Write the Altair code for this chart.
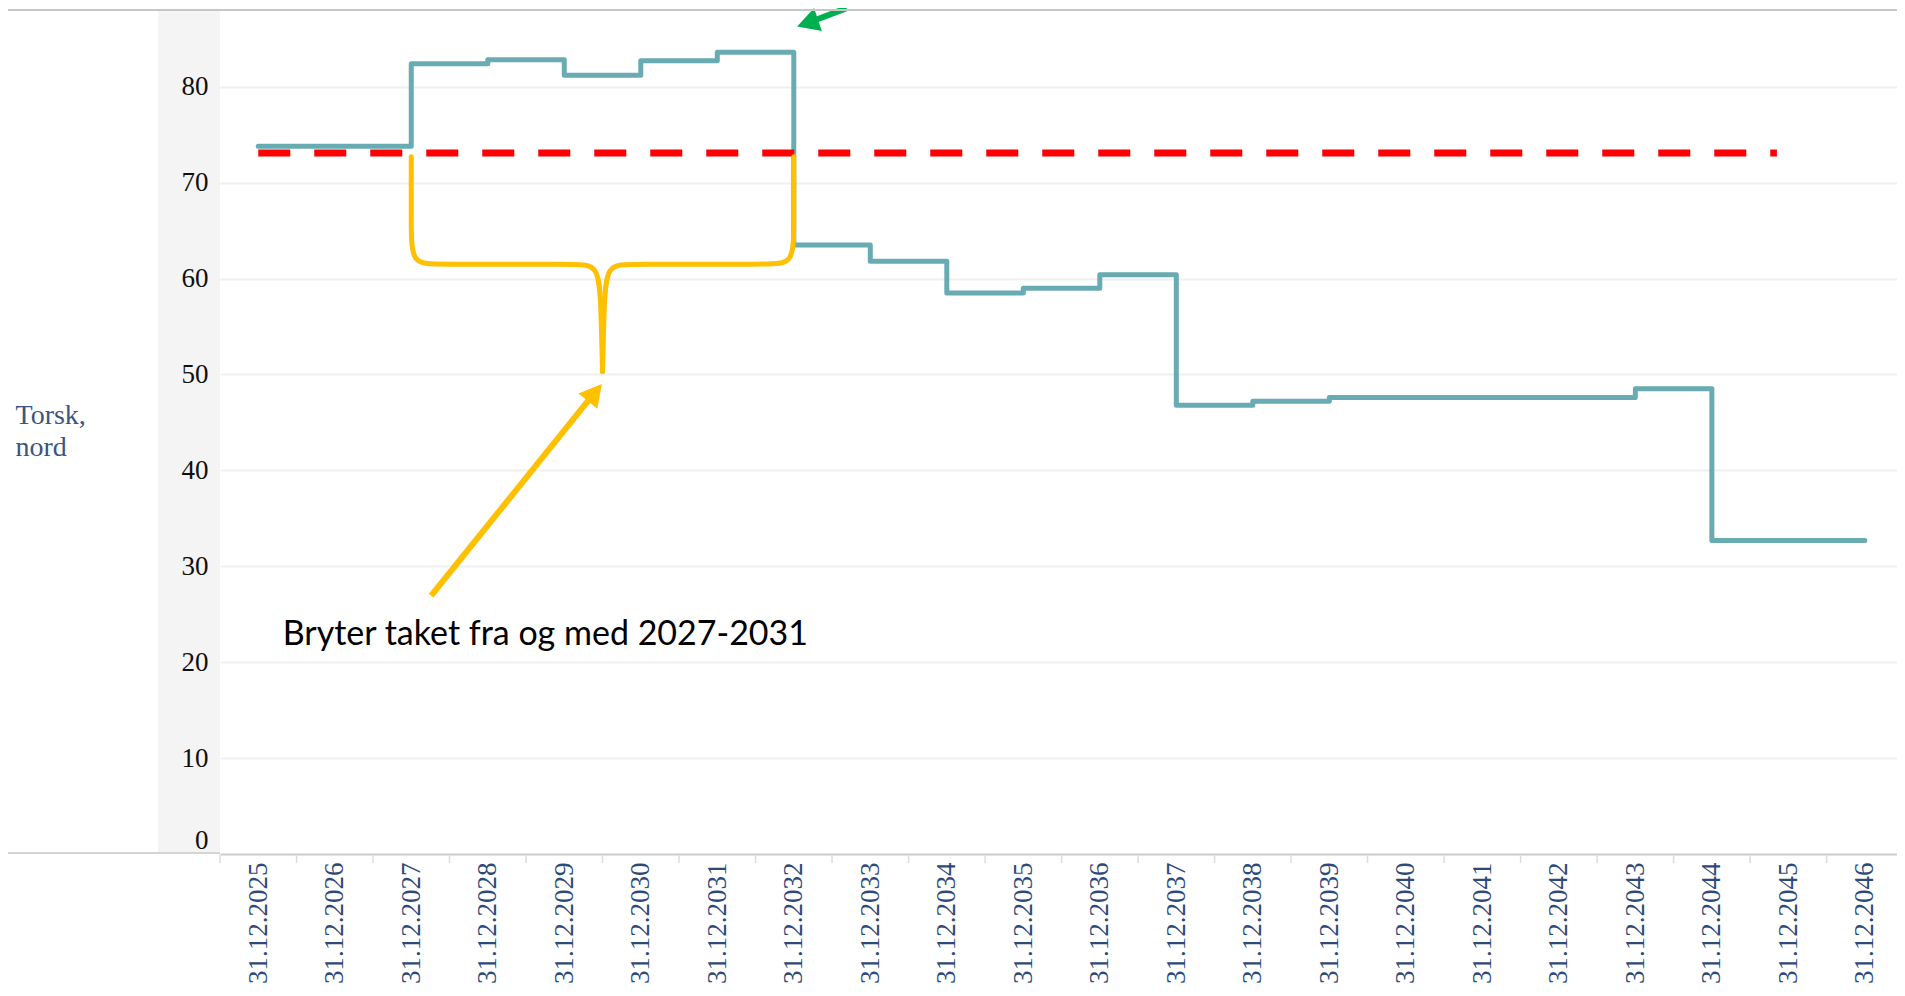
import altair as alt
import pandas as pd

# ---------------- data ----------------
YEARS = list(range(2025, 2047))
VALUES = [73.8, 73.8, 82.4, 82.8, 81.2, 82.7, 83.6, 63.5, 61.8, 58.5, 59.0,
          60.4, 46.8, 47.2, 47.6, 47.6, 47.6, 47.6, 48.5, 32.7, 32.7, 32.7]
Y_TICKS = [0, 10, 20, 30, 40, 50, 60, 70, 80]
BAND_EDGES = [y - 0.5 for y in YEARS]
Y_TITLE = ["Torsk,", "nord"]

CAP_VALUE = 73.1
CAP_START = 2025
CAP_END = 2044.85

ANNOTATION = "Bryter taket fra og med 2027-2031"
ANNOT_X, ANNOT_Y = 2025.32, 21.8

# curly brace (left half; right half mirrored around 2029.5)
BRACE_X = [2027.0, 2027.0, 2027.0, 2027.3, 2029.15, 2029.45, 2029.48, 2029.5]
BRACE_Y = [72.7, 66.0, 61.5, 61.5, 61.5, 61.5, 57.0, 50.3]

# arrows: tail, head centre, angle
YEL_TAIL = (2027.26, 26.95)
YEL_HEAD = (2029.40, 48.12)
YEL_ANGLE = 39
GRN_TAIL = (2032.69, 88.2)
GRN_HEAD = (2032.18, 86.64)
GRN_ANGLE = 251

# ---------------- layout ----------------
W, H = 1677, 844
X_DOMAIN = [2024.5, 2046.42]
Y_DOMAIN = [0, 88]
TEAL = "#69abb3"
YELLOW = "#FFC000"
GREEN = "#00B050"
NAVY = "#2e4a7a"
SERIF = "Liberation Serif"
HEAD_SHAPE = "M0,-1L1.1,1L-1.1,1Z"

xs = alt.Scale(domain=X_DOMAIN, nice=False, zero=False)
ys = alt.Scale(domain=Y_DOMAIN, nice=False, zero=False)

x_axis = alt.Axis(
    values=YEARS,
    labelExpr="'31.12.' + datum.value",
    labelAngle=270,
    labelFont=SERIF,
    labelFontSize=27,
    labelColor=NAVY,
    labelPadding=8,
    labelOverlap=False,
    labelFlush=False,
    ticks=False,
    domainColor="#cfcfcf",
    domainWidth=2,
    grid=False,
    title=None,
)

y_axis = alt.Axis(
    values=Y_TICKS,
    labelFont=SERIF,
    labelFontSize=27,
    labelColor="#111111",
    labelPadding=12,
    labelFlush=True,
    ticks=False,
    domain=False,
    grid=True,
    gridColor="#efefef",
    gridWidth=2,
    title=Y_TITLE,
    titleAngle=0,
    titleX=-205,
    titleY=413,
    titleAlign="left",
    titleBaseline="alphabetic",
    titleFont=SERIF,
    titleFontSize=28,
    titleFontWeight="normal",
    titleColor="#3b5480",
    titleLineHeight=32,
)


def X(field):
    return alt.X(field, scale=xs, axis=x_axis)


def Y(field):
    return alt.Y(field, scale=ys, axis=y_axis)


blank = alt.Data(values=[{}])

# ---------------- decorations ----------------
band = alt.Chart(blank).mark_rect(color="#000000", opacity=0.045, clip=False).encode(
    x=alt.value(-62), x2=alt.value(0), y=alt.value(0), y2=alt.value(H))
top_line = alt.Chart(blank).mark_rule(color="#c6c6c6", strokeWidth=2, clip=False).encode(
    x=alt.value(-212), x2=alt.value(W), y=alt.value(0))
bottom_left = alt.Chart(blank).mark_rule(color="#d4d4d4", strokeWidth=2, clip=False).encode(
    x=alt.value(-212), x2=alt.value(0), y=alt.value(H - 1))
band_ticks = alt.Chart(pd.DataFrame({"edge": BAND_EDGES})).mark_rule(
    color="#dcdcdc", strokeWidth=1.5, clip=False).encode(
    x=X("edge:Q"), y=alt.value(H + 1), y2=alt.value(H + 9))

# ---------------- data marks ----------------
df = pd.DataFrame({"year": YEARS, "value": VALUES})

step = alt.Chart(df).mark_line(
    interpolate="step-after", color=TEAL, strokeWidth=5, strokeCap="round", strokeJoin="round").encode(
    x=X("year:Q"), y=Y("value:Q"))

cap = alt.Chart(pd.DataFrame({"x": [CAP_START], "x2": [CAP_END], "y": [CAP_VALUE]})).mark_rule(
    color="#ff0000", strokeWidth=7, strokeDash=[32, 24], strokeCap="butt").encode(
    x=X("x:Q"), x2="x2:Q", y=Y("y:Q"))

brace_rows = []
for i, (bx, by) in enumerate(zip(BRACE_X, BRACE_Y)):
    brace_rows.append({"side": "L", "i": i, "x": bx, "y": by})
    brace_rows.append({"side": "R", "i": i, "x": 4059 - bx, "y": by})
brace = alt.Chart(pd.DataFrame(brace_rows)).mark_line(
    interpolate="basis", color=YELLOW, strokeWidth=5, strokeCap="round").encode(
    x=X("x:Q"), y=Y("y:Q"), detail="side:N", order="i:Q")

arrows = pd.DataFrame({
    "x": [YEL_TAIL[0], GRN_TAIL[0]], "y": [YEL_TAIL[1], GRN_TAIL[1]],
    "x2": [YEL_HEAD[0], GRN_HEAD[0]], "y2": [YEL_HEAD[1], GRN_HEAD[1]],
    "c": ["y", "g"],
})
shafts = alt.Chart(arrows).mark_rule(strokeWidth=6, strokeCap="butt", clip=False).encode(
    x=X("x:Q"), y=Y("y:Q"), x2="x2:Q", y2="y2:Q",
    color=alt.Color("c:N", scale=alt.Scale(domain=["y", "g"], range=[YELLOW, GREEN]), legend=None))

yel_head = alt.Chart(pd.DataFrame({"x": [YEL_HEAD[0]], "y": [YEL_HEAD[1]]})).mark_point(
    shape=HEAD_SHAPE, filled=True, size=484, angle=YEL_ANGLE, color=YELLOW, opacity=1,
    strokeWidth=0, clip=False).encode(x=X("x:Q"), y=Y("y:Q"))
grn_head = alt.Chart(pd.DataFrame({"x": [GRN_HEAD[0]], "y": [GRN_HEAD[1]]})).mark_point(
    shape=HEAD_SHAPE, filled=True, size=484, angle=GRN_ANGLE, color=GREEN, opacity=1,
    strokeWidth=0, clip=False).encode(x=X("x:Q"), y=Y("y:Q"))

text = alt.Chart(pd.DataFrame({"x": [ANNOT_X], "y": [ANNOT_Y], "t": [ANNOTATION]})).mark_text(
    align="left", baseline="alphabetic", font="Lato", fontSize=34, color="#000000").encode(
    x=X("x:Q"), y=Y("y:Q"), text="t:N")

chart = alt.layer(
    step, cap, brace, shafts, yel_head, grn_head, text, band, top_line, bottom_left, band_ticks
).properties(
    width=W, height=H,
    padding={"left": 212, "top": 2, "right": 0, "bottom": 130},
    autosize=alt.AutoSizeParams(type="none"),
).configure_view(stroke=None)

chart.save("out.html", embed_options={"renderer": "svg", "actions": False})
